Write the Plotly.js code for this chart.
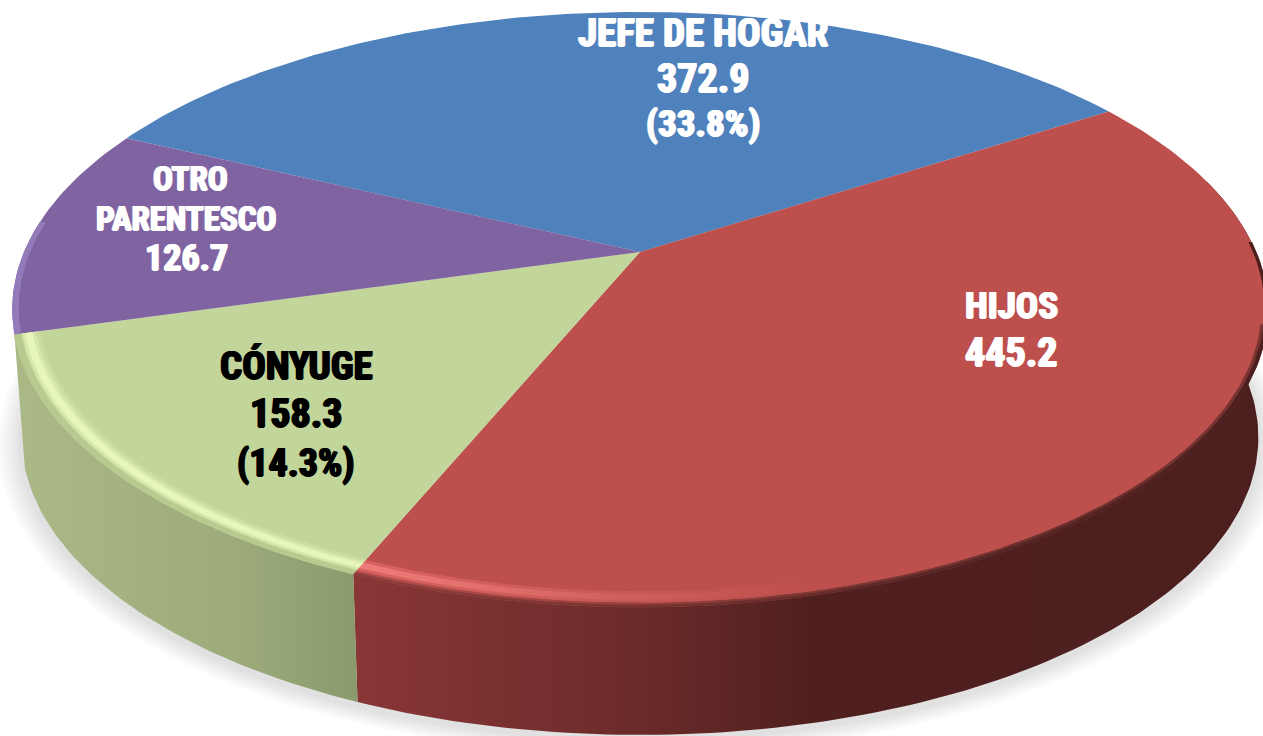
<!DOCTYPE html>
<html><head><meta charset="utf-8">
<script src="https://cdn.plot.ly/plotly-3.0.1.min.js"></script>
<style>html,body{margin:0;padding:0;background:#fff;overflow:hidden}#c{width:1263px;height:736px}</style>
</head><body><div id="c"></div>
<script>
// DATA
var categories = ["JEFE DE HOGAR", "HIJOS", "CÓNYUGE", "OTRO PARENTESCO"];
var values = [372.9, 445.2, 158.3, 126.7];
var faceColors = ["#4f81bd", "#bd4f4c", "#c2d59a", "#8064a2"];
var labelLines = [
  ["JEFE DE HOGAR", "372.9", "(33.8%)"],
  ["HIJOS", "445.2"],
  ["CÓNYUGE", "158.3", "(14.3%)"],
  ["OTRO", "PARENTESCO", "126.7"]
];
var labelColors = ["#ffffff", "#ffffff", "#000000", "#ffffff"];
var labelX = [[703, 703, 703], [1011, 1011], [296, 296, 296], [190, 186, 186]];
var labelY = [[33, 78, 123], [305, 352], [366, 413, 463], [178, 218, 258]];
var labelSize = [[39, 40, 37], [37, 40], [39, 40, 38], [33, 33, 36]];

// pie geometry (projection of the disc, in pixel-sized axis units)
var cx = 640, cy = 252, a = 616, b = 286.4, k = 0.193, startDeg = -64.5, depth = 128, shrink = 0.985;
function pt(deg, r) {
  var t = deg * Math.PI / 180, u = r * Math.sin(t), v = r * Math.cos(t), w = 1 + k * v;
  return [cx + a * u / w, cy - b * v / w];
}
function arc(d0, d1, r, dy, sx) {
  var n = Math.max(2, Math.ceil(Math.abs(d1 - d0))), out = [];
  for (var i = 0; i <= n; i++) {
    var p = pt(d0 + (d1 - d0) * i / n, r);
    out.push([cx + (p[0] - cx) * (sx || 1), p[1] + (dy || 0)]);
  }
  return out;
}
function poly(points, extra) {
  var o = {x: points.map(function (p) { return p[0]; }), y: points.map(function (p) { return p[1]; }),
    type: "scatter", mode: "lines", fill: "toself", line: {width: 0}, hoverinfo: "skip", showlegend: false};
  for (var key in extra) o[key] = extra[key];
  return o;
}
function strip(d0, d1, r0, r1, extra) {
  return poly(arc(d0, d1, r1).concat(arc(d1, d0, r0)), extra);
}
function grad(stops) { return {type: "horizontal", colorscale: stops}; }

var total = values.reduce(function (s, v) { return s + v; }, 0);
var edges = [startDeg];
values.forEach(function (v, i) { edges.push(edges[i] + v / total * 360); });

var traces = [];
// soft shadow
[0.036, 0.03, 0.024, 0.018, 0.012, 0.006].forEach(function (e) {
  traces.push(poly(arc(0, 360, 1 + e, depth + 4, shrink), {fillcolor: "rgba(0,0,0,0.02)"}));
});
// side walls
function wall(d0, d1, stops) {
  return poly(arc(d0, d1, 1).concat(arc(d1, d0, 1, depth, shrink)), {fillcolor: stops[0][1], fillgradient: grad(stops)});
}
traces.push(wall(75, edges[2], [[0, "#8a3636"], [0.1, "#7f3332"], [0.31, "#6b2b2a"], [0.5, "#50201f"], [1, "#4c1f1e"]]));
traces.push(wall(edges[2], edges[3], [[0, "#aab986"], [0.65, "#9dab7b"], [1, "#8a9a6c"]]));
// top faces
values.forEach(function (v, i) {
  var pts = [[cx, cy]].concat(arc(edges[i], edges[i + 1], 1)).concat([[cx, cy]]);
  traces.push(poly(pts, {fillcolor: faceColors[i], name: categories[i], text: categories[i] + ": " + v,
    hoverinfo: "text", hoveron: "fills"}));
});
// bevel highlights on the rim
var redSoft = [[0, "#b04e4c"], [0.25, "#a04341"], [0.5, "#803836"], [0.8, "#6a2f2d"], [1, "#7a3432"]];
traces.push(strip(104, edges[2], 0.99, 1.001, {fillcolor: "#7a3432", fillgradient: grad(redSoft)}));
traces.push(strip(88, edges[2], 0.995, 1.001, {fillcolor: "#7a3432",
  fillgradient: grad([[0, "#8f3d3b"], [0.3, "#7a3432"], [0.6, "#5a2826"], [1, "#4c1f1e"]])}));
traces.push(strip(104, edges[2], 0.964, 0.99, {fillcolor: "#c85a56",
  fillgradient: grad([[0, "#d9625e"], [0.3, "#c75a56"], [0.5, "#bd4f4c"], [1, "#bd4f4c"]])}));
traces.push(strip(104, edges[2], 0.971, 0.984, {fillcolor: "#c85a56",
  fillgradient: grad([[0, "#ee7c78"], [0.15, "#e06d69"], [0.33, "#cc5c58"], [0.5, "#bd4f4c"], [1, "#bd4f4c"]])}));
traces.push(strip(edges[2], edges[3], 0.99, 1.001, {fillcolor: "#b9ca91"}));
traces.push(strip(edges[2], edges[3], 0.962, 0.99, {fillcolor: "#cbdea2"}));
traces.push(strip(edges[2], edges[3], 0.968, 0.988, {fillcolor: "#d6e8ad"}));
traces.push(strip(edges[2], edges[3], 0.973, 0.984, {fillcolor: "#e6f7b9"}));
traces.push(strip(edges[3], edges[3] + 22, 0.99, 1, {fillcolor: "#937ab9"}));

// labels
var annotations = [];
labelLines.forEach(function (lines, i) {
  lines.forEach(function (t, j) {
    var c = labelColors[i];
    annotations.push({x: labelX[i][j], y: labelY[i][j], xref: "x", yref: "y", text: t, showarrow: false,
      xanchor: "center", yanchor: "middle",
      font: {family: "'Liberation Sans Narrow','Roboto Condensed','Liberation Sans',sans-serif", size: labelSize[i][j],
        weight: 700, color: c, shadow: "1px 0 0 " + c + ", -1px 0 0 " + c + ", 0 0.6px 0 " + c}});
  });
});

Plotly.newPlot("c", traces, {
  width: 1263, height: 736, margin: {l: 0, r: 0, t: 0, b: 0}, showlegend: false,
  paper_bgcolor: "#ffffff", plot_bgcolor: "#ffffff",
  xaxis: {range: [0, 1263], visible: false, fixedrange: true},
  yaxis: {range: [736, 0], visible: false, fixedrange: true},
  annotations: annotations
}, {displayModeBar: false, staticPlot: false});
</script></body></html>
